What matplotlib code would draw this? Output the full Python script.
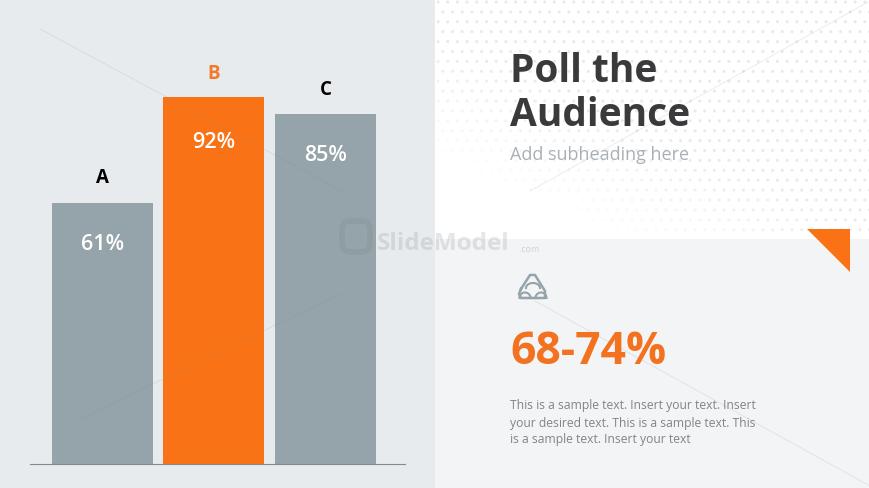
import numpy as np
import matplotlib.pyplot as plt
from matplotlib.patches import Rectangle, Polygon, FancyBboxPatch

# ---- data ----
categories = ["A", "B", "C"]
value_labels = ["61%", "92%", "85%"]
bar_heights = [71.1, 100.0, 95.4]   # drawn height, relative to tallest bar
category_colors = ["#000000", "#ef7b2d", "#000000"]

title_lines = ["Poll the", "Audience"]
subheading = "Add subheading here"
big_number = "68-74%"
body_lines = [
    "This is a sample text. Insert your text. Insert",
    "your desired text. This is a sample text. This",
    "is a sample text. Insert your text",
]

W, H = 870, 489
ORANGE = "#f97316"
GREY = "#95a3aa"

plt.rcParams["font.family"] = ["Open Sans", "DejaVu Sans"]

fig = plt.figure(figsize=(W / 100, H / 100), dpi=100, facecolor="white")


def pixel_axes(zorder):
    a = fig.add_axes([0, 0, 1, 1], zorder=zorder)
    a.set_xlim(0, W)
    a.set_ylim(H, 0)
    a.axis("off")
    return a


# ---- background panels ----
bg = pixel_axes(0)
bg.add_patch(Rectangle((0, 0), 435, H, color="#e8ebee", lw=0))
bg.add_patch(Rectangle((435, 240), 435, H - 240, color="#f3f4f6", lw=0))

# dotted texture, top right, fading toward lower left
dx, dy = np.meshgrid(np.arange(438, 870, 9.7), np.arange(3, 240, 9.9))
dx[1::2] += 4.8
dx, dy = dx.ravel(), dy.ravel()
fade = np.clip((dx - 435) / 300 + (120 - dy) / 130 + 0.35, 0, 1)
dot_colors = np.zeros((dx.size, 4))
dot_colors[:, :3] = 0.89
dot_colors[:, 3] = fade * 0.75
bg.scatter(dx, dy, s=5, c=dot_colors, linewidths=0)

# ---- bars ----
base_y = 465
top_y = 98
ax = fig.add_axes([30 / W, (H - base_y) / H, 375 / W, base_y / H], zorder=1)
ax.patch.set_alpha(0)
step = 111.5
ax.set_xlim((30 - 102.5) / step, (405 - 102.5) / step)
ax.set_ylim(0, 100 * base_y / (base_y - top_y))
pos = np.arange(len(categories))
bars = ax.bar(pos, bar_heights, width=101 / step, color=[GREY, ORANGE, GREY], linewidth=0)
for s in ["top", "left", "right"]:
    ax.spines[s].set_visible(False)
ax.spines["bottom"].set_color("#85898c")
ax.spines["bottom"].set_linewidth(0.8)
ax.set_xticks([])
ax.set_yticks([])

value_offsets = [-29, -32, -29]
name_offsets = [19, 17, 18]
for i, rect in enumerate(bars):
    ax.annotate(value_labels[i], (pos[i], rect.get_height()), xytext=(0, value_offsets[i]),
                textcoords="offset points", ha="center", va="center",
                color="white", fontsize=15.5, fontweight="semibold")
    ax.annotate(categories[i], (pos[i], rect.get_height()), xytext=(0, name_offsets[i]),
                textcoords="offset points", ha="center", va="center",
                color=category_colors[i], fontsize=13.5, fontweight="bold")

# ---- overlay: faint lines, watermark, right hand side ----
ov = pixel_axes(2)
faint = [
    ((40, 30), (342, 192)),
    ((530, 192), (868, 3)),
    ((535, 302), (870, 487)),
    ((80, 420), (340, 295)),
]
for p0, p1 in faint:
    ov.plot([p0[0], p1[0]], [p0[1], p1[1]], color="#7f8a90", lw=0.5, alpha=0.22)

ov.add_patch(FancyBboxPatch((344, 224), 24, 27, boxstyle="round,pad=2,rounding_size=9",
                            fc="none", ec="#7b8488", lw=4, alpha=0.22))
ov.text(377, 244, "SlideModel", fontsize=17.5, fontweight="bold", color="#7b8488",
        alpha=0.2, ha="left", va="center")
ov.text(519, 250, ".com", fontsize=6.5, color="#7b8488", alpha=0.3, ha="left", va="center")

ov.text(510, 72, title_lines[0], fontsize=28, fontweight="bold", color="#3a3a3c", ha="left", va="center")
ov.text(510, 115, title_lines[1], fontsize=28, fontweight="bold", color="#3a3a3c", ha="left", va="center")
ov.text(510, 155, subheading, fontsize=13, color="#a9b1b6", ha="left", va="center")

ov.add_patch(Polygon([(807, 230), (850, 230), (850, 273)], closed=True, color=ORANGE, lw=0))

# icon: rounded triangle with three arcs
icon_col = "#95a3aa"
ov.plot([521, 530, 535, 545, 545, 521, 519, 521], [290, 276, 276, 292, 299, 299, 295, 290],
        color=icon_col, lw=1.8, solid_joinstyle="round")
t = np.linspace(np.pi, 2 * np.pi, 20)
for cx, r in [(525, 5.5), (541, 5.5)]:
    ov.plot(cx + r * np.cos(t), 299 + r * np.sin(t), color=icon_col, lw=1.5)
ov.plot(533 + 7 * np.cos(t), 289 + 5 * np.sin(t), color=icon_col, lw=1.5)
ov.plot([526, 526], [289, 294], color=icon_col, lw=1.2, alpha=0)

ov.text(510, 353, big_number, fontsize=32, fontweight="bold", color="#f3721f", ha="left", va="center")
for line, y in zip(body_lines, [405, 423, 440]):
    ov.text(510, y, line, fontsize=8.7, color="#7f8589", ha="left", va="center")

fig.savefig("out.png", dpi=100)
